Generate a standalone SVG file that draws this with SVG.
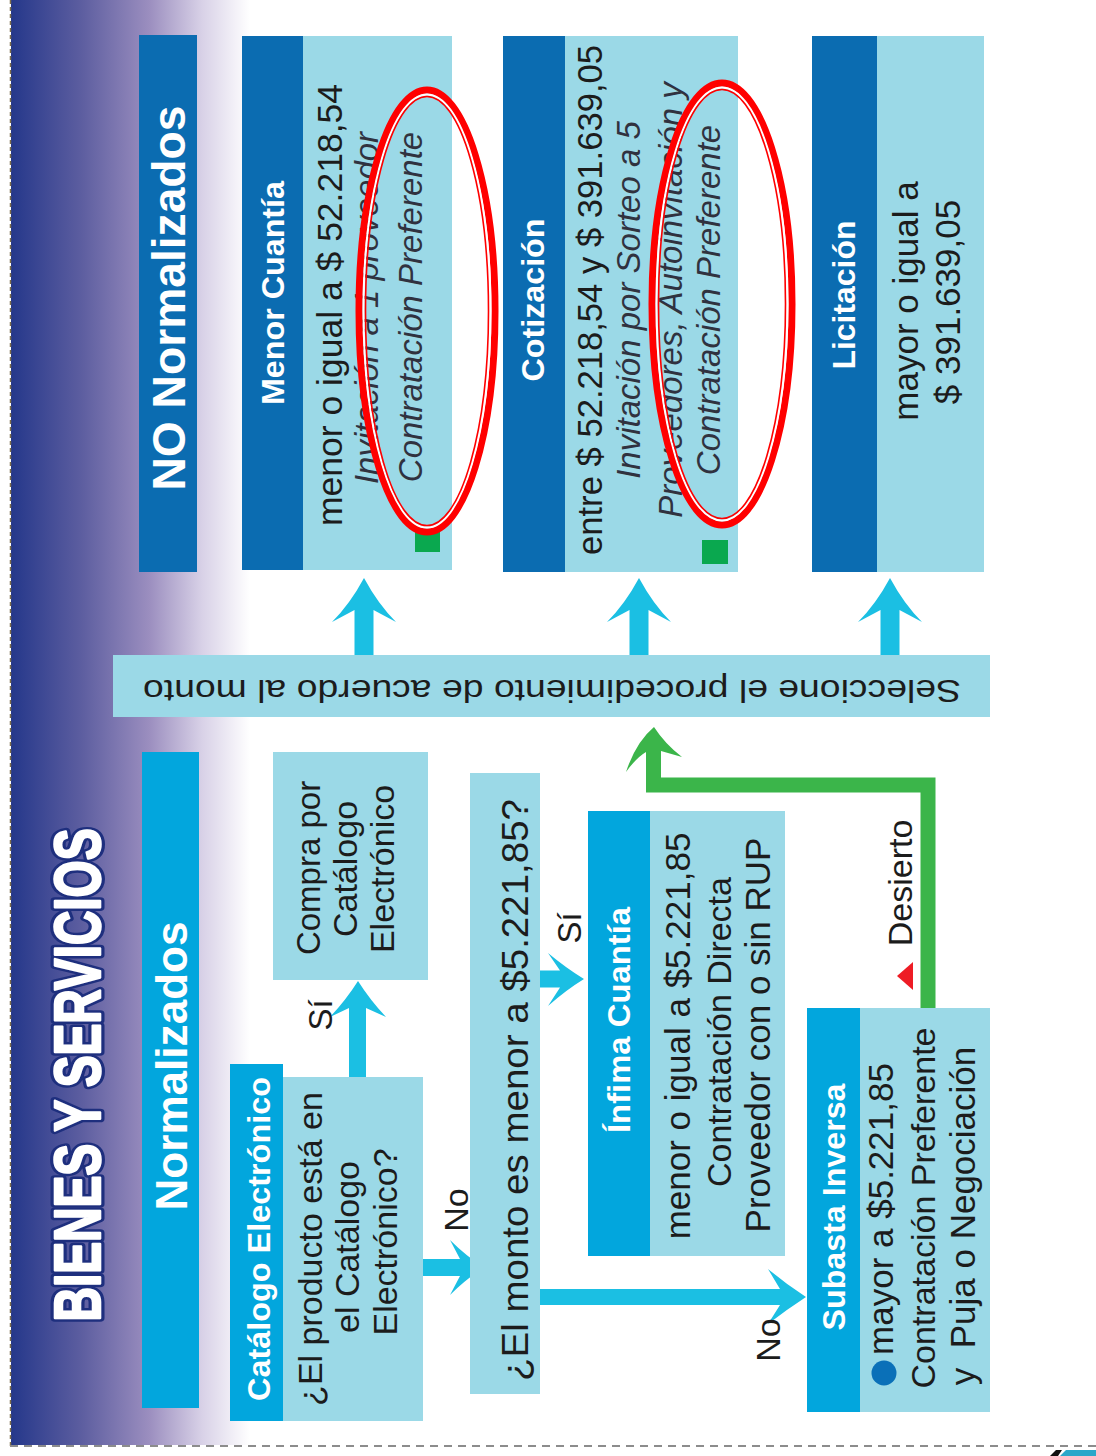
<svg xmlns="http://www.w3.org/2000/svg" xmlns:xlink="http://www.w3.org/1999/xlink" width="1096" height="1456" viewBox="0 0 1096 1456">
<style>
.f{font-family:"Liberation Sans",Arial,Helvetica,sans-serif}
.hw{fill:#fff;font-weight:bold;text-anchor:middle}
.tx{fill:#1c1c1c;text-anchor:middle}
.it{font-style:italic;fill:#30323f;text-anchor:middle}
.dk{fill:#0b6cb1}
.cy{fill:#02a6dd}
.lt{fill:#9bd9e7}
.arr{fill:#1bbfe3}
.gsq{fill:#0aa84f}
.e1{fill:none;stroke:#ff0000;stroke-width:7}
.e2{fill:none;stroke:#ffffff;stroke-width:2}
.e3{fill:none;stroke:#ff0000;stroke-width:1.6}
.ttl{font-weight:bold;text-anchor:middle}
</style>
<defs>
<linearGradient id="band" x1="10" y1="0" x2="250" y2="0" gradientUnits="userSpaceOnUse">
<stop offset="0" stop-color="#24378a"/>
<stop offset="0.3" stop-color="#5d5ea0"/>
<stop offset="0.58" stop-color="#9b8ebf"/>
<stop offset="0.8" stop-color="#d8d1e7"/>
<stop offset="1" stop-color="#ffffff"/>
</linearGradient>
<path id="upArrow" d="M0,0 Q14,26 32,44 L9.5,32 L9.5,78 L-9.5,78 L-9.5,32 L-32,44 Q-14,26 0,0 Z"/>
</defs>
<rect width="1096" height="1456" fill="#ffffff"/>
<rect x="11" y="0" width="240" height="1445" fill="url(#band)"/>
<line x1="10.5" y1="0" x2="10.5" y2="1446" stroke="#7d6d4a" stroke-width="1.5" stroke-dasharray="4 3"/>
<line x1="10" y1="1446" x2="1096" y2="1446" stroke="#8c8c8c" stroke-width="2" stroke-dasharray="8 6"/>
<polygon points="1050,1456 1056,1450 1062,1450 1058,1456" fill="#111"/>
<polygon points="1060,1456 1066,1450 1096,1450 1096,1456" fill="#2aa7c9"/>

<g id="title">
<text class="f ttl" transform="translate(100,1075) rotate(-90)" font-size="64" fill="#1e2f7e" stroke="#1e2f7e" stroke-width="9" stroke-linejoin="round" textLength="493" lengthAdjust="spacingAndGlyphs">BIENES Y SERVICIOS</text>
<text class="f ttl" transform="translate(100,1075) rotate(-90)" font-size="64" fill="#ffffff" stroke="#ffffff" stroke-width="2.5" stroke-linejoin="round" textLength="493" lengthAdjust="spacingAndGlyphs">BIENES Y SERVICIOS</text>
</g>

<g id="connectors">
<use xlink:href="#upArrow" href="#upArrow" x="364" y="578" class="arr"/>
<use xlink:href="#upArrow" href="#upArrow" x="639" y="578" class="arr"/>
<use xlink:href="#upArrow" href="#upArrow" x="890" y="578" class="arr"/>
<path class="arr" d="M358,981 Q370,1000 386,1017 L366,1008 L366,1078 L349,1078 L349,1008 L330,1017 Q346,1000 358,981 Z"/>
<path class="arr" d="M484,1267.5 Q466,1256 450,1240 L460,1259 L422,1259 L422,1276 L460,1276 L450,1295 Q466,1279 484,1267.5 Z"/>
<path class="arr" d="M584,979 Q566,968 548,953 L560,970.5 L538,970.5 L538,987.5 L560,987.5 L548,1006 Q566,990 584,979 Z"/>
<path class="arr" d="M806,1297 Q786,1284 768,1269 L780,1289 L538,1289 L538,1305 L780,1305 L768,1324 Q786,1310 806,1297 Z"/>
<path d="M928,1008 V785 H653.5 V752" fill="none" stroke="#3bb54a" stroke-width="15"/>
<path fill="#3bb54a" d="M654,727 Q665,744 682,757 L661,751 L661,760 L646,760 L646,752 Q636,758 626,772 Q636,742 654,727 Z"/>
<polygon points="897,976 913,962 913,990" fill="#ee1c25"/>
<text class="f tx" transform="translate(332,1015) rotate(-90)" font-size="33">Sí</text>
<text class="f tx" transform="translate(468,1210) rotate(-90)" font-size="34">No</text>
<text class="f tx" transform="translate(581,928) rotate(-90)" font-size="33">Sí</text>
<text class="f tx" transform="translate(780,1340) rotate(-90)" font-size="34">No</text>
<text class="f tx" transform="translate(912,883) rotate(-90)" font-size="34">Desierto</text>
</g>

<g id="no-normalizados">
<rect class="dk" x="139" y="35" width="58" height="537"/>
<text class="f hw" transform="translate(185,298) rotate(-90)" font-size="46" textLength="385" lengthAdjust="spacingAndGlyphs">NO Normalizados</text>
</g>

<g id="menor-cuantia">
<rect class="dk" x="242" y="36" width="61" height="534"/>
<rect class="lt" x="303" y="36" width="149" height="534"/>
<text class="f hw" transform="translate(284,293) rotate(-90)" font-size="31" textLength="224" lengthAdjust="spacingAndGlyphs">Menor Cuantía</text>
<text class="f tx" transform="translate(342,305) rotate(-90)" font-size="35.5">menor o igual a $ 52.218,54</text>
<text class="f it" transform="translate(378,308) rotate(-90)" font-size="33">Invitación a 1 proveedor</text>
<text class="f it" transform="translate(422,307) rotate(-90)" font-size="33">Contratación Preferente</text>
<rect class="gsq" x="415" y="531" width="25" height="21"/>
</g>

<g id="cotizacion">
<rect class="dk" x="503" y="36" width="62" height="536"/>
<rect class="lt" x="565" y="36" width="173" height="536"/>
<text class="f hw" transform="translate(544,300) rotate(-90)" font-size="31" textLength="163" lengthAdjust="spacingAndGlyphs">Cotización</text>
<text class="f tx" transform="translate(602,300) rotate(-90)" font-size="35" textLength="510" lengthAdjust="spacingAndGlyphs">entre $ 52.218,54 y $ 391.639,05</text>
<text class="f it" transform="translate(640,300) rotate(-90)" font-size="33">Invitación por Sorteo a 5</text>
<text class="f it" transform="translate(682,300) rotate(-90)" font-size="33">Proveedores, Autoinvitación y</text>
<text class="f it" transform="translate(720,300) rotate(-90)" font-size="33">Contratación Preferente</text>
<rect class="gsq" x="702" y="540" width="26" height="24"/>
</g>

<g id="licitacion">
<rect class="dk" x="812" y="36" width="65" height="536"/>
<rect class="lt" x="877" y="36" width="107" height="536"/>
<text class="f hw" transform="translate(855,295) rotate(-90)" font-size="31" textLength="149" lengthAdjust="spacingAndGlyphs">Licitación</text>
<text class="f tx" transform="translate(918,301) rotate(-90)" font-size="35">mayor o igual a</text>
<text class="f tx" transform="translate(960,302) rotate(-90)" font-size="35">$ 391.639,05</text>
</g>

<g id="highlights">
<ellipse class="e1" cx="427" cy="311" rx="68" ry="221"/>
<ellipse class="e2" cx="427" cy="311" rx="63.5" ry="216.5"/>
<ellipse class="e3" cx="427" cy="311" rx="61.5" ry="214.5"/>
<ellipse class="e1" cx="722" cy="304" rx="70" ry="221"/>
<ellipse class="e2" cx="722" cy="304" rx="65.5" ry="216.5"/>
<ellipse class="e3" cx="722" cy="304" rx="63.5" ry="214.5"/>
</g>

<g id="seleccione">
<rect class="lt" x="113" y="655" width="877" height="62"/>
<text class="f tx" transform="translate(552,680) rotate(180)" font-size="31" textLength="818" lengthAdjust="spacingAndGlyphs">Seleccione el procedimiento de acuerdo al monto</text>
</g>

<g id="normalizados">
<rect class="cy" x="142" y="752" width="57" height="656"/>
<text class="f hw" transform="translate(187,1066) rotate(-90)" font-size="44" textLength="289" lengthAdjust="spacingAndGlyphs">Normalizados</text>
</g>

<g id="catalogo-electronico">
<rect class="cy" x="230" y="1064" width="53" height="357"/>
<rect class="lt" x="283" y="1077" width="140" height="344"/>
<text class="f hw" transform="translate(270,1239) rotate(-90)" font-size="31" textLength="324" lengthAdjust="spacingAndGlyphs">Catálogo Electrónico</text>
<text class="f tx" transform="translate(322,1249) rotate(-90)" font-size="34">¿El producto está en</text>
<text class="f tx" transform="translate(359,1247) rotate(-90)" font-size="34">el Catálogo</text>
<text class="f tx" transform="translate(397,1242) rotate(-90)" font-size="34">Electrónico?</text>
</g>

<g id="compra-catalogo">
<rect class="lt" x="273" y="752" width="155" height="228"/>
<text class="f tx" transform="translate(320,868) rotate(-90)" font-size="33">Compra por</text>
<text class="f tx" transform="translate(357,869) rotate(-90)" font-size="34">Catálogo</text>
<text class="f tx" transform="translate(394,869) rotate(-90)" font-size="34">Electrónico</text>
</g>

<g id="monto-pregunta">
<rect class="lt" x="470" y="773" width="70" height="621"/>
<text class="f tx" transform="translate(528,1090) rotate(-90)" font-size="36" textLength="582" lengthAdjust="spacingAndGlyphs">¿El monto es menor a $5.221,85?</text>
</g>

<g id="infima-cuantia">
<rect class="cy" x="588" y="811" width="62" height="445"/>
<rect class="lt" x="650" y="811" width="135" height="445"/>
<text class="f hw" transform="translate(630,1020) rotate(-90)" font-size="31" textLength="226" lengthAdjust="spacingAndGlyphs">Ínfima Cuantía</text>
<text class="f tx" transform="translate(690,1036) rotate(-90)" font-size="35">menor o igual a $5.221,85</text>
<text class="f tx" transform="translate(731,1032) rotate(-90)" font-size="34">Contratación Directa</text>
<text class="f tx" transform="translate(770,1035) rotate(-90)" font-size="35">Proveedor con o sin RUP</text>
</g>

<g id="subasta-inversa">
<rect class="cy" x="807" y="1008" width="53" height="404"/>
<rect class="lt" x="860" y="1008" width="130" height="404"/>
<text class="f hw" transform="translate(845,1207) rotate(-90)" font-size="31" textLength="247" lengthAdjust="spacingAndGlyphs">Subasta Inversa</text>
<circle cx="884" cy="1373" r="12.5" fill="#0a70b8"/>
<text class="f tx" transform="translate(893,1209) rotate(-90)" font-size="35">mayor a $5.221,85</text>
<text class="f tx" transform="translate(935,1208) rotate(-90)" font-size="34">Contratación Preferente</text>
<text class="f tx" transform="translate(975,1216) rotate(-90)" font-size="35" xml:space="preserve">y  Puja o Negociación</text>
</g>
</svg>
